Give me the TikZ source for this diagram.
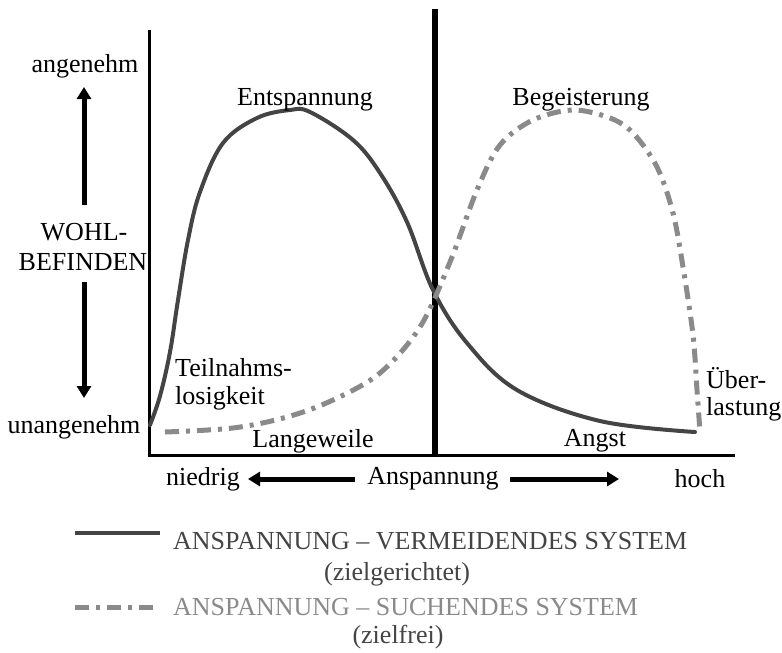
\documentclass[tikz,border=0pt]{standalone}
\usepackage{fontspec}
\setmainfont{Liberation Serif}
\usetikzlibrary{arrows.meta}
\definecolor{solidc}{HTML}{444444}
\definecolor{dashc}{HTML}{8A8A8A}
\begin{document}
\begin{tikzpicture}[x=1pt,y=-1pt,
  lbl/.style={font=\fontsize{26}{29}\selectfont, inner sep=0pt},
  axisline/.style={line width=3pt, black},
  bigarrow/.style={line width=5pt, -{Triangle[width=14pt,length=12pt]}},
  solidcurve/.style={line width=4pt, solidc, line cap=round},
  dashcurve/.style={line width=5pt, dashc, dash pattern=on 14pt off 7pt on 4pt off 7pt}]
\useasboundingbox (0,0) rectangle (782,653);
% axes
\coordinate (ytop) at (149,30);
\coordinate (origin) at (149,455);
\coordinate (xend) at (735,455);
\coordinate (mtop) at (435,9);
\coordinate (mbot) at (435,455);
\draw[axisline] (ytop) -- (origin) -- (xend);
\draw[line width=6pt] (mtop) -- (mbot);
% curves
\draw[solidcurve] plot[smooth, tension=0.6] coordinates {(150,425) (160,396) (170,352) (178,300) (188,240) (200,192) (223,143) (257,118) (290,110) (310,112) (353,140) (380,173) (407,222) (433,290) (467,343) (517,390) (600,421) (695,432)};
\draw[dashcurve] plot[smooth, tension=0.55] coordinates {(165,432) (233,428) (287,417) (333,400) (380,373) (420,327) (450,262) (477,190) (500,145) (533,120) (573,110) (610,118) (633,133) (657,167) (673,213) (683,267) (693,335) (697,390) (700,432)};
% left axis labels
\node[lbl] (ang) at (85,66) {angenehm};
\node[lbl] (wohl) at (84,232) {WOHL-};
\node[lbl] (bef) at (83,262) {BEFINDEN};
\node[lbl] (unang) at (74,427) {unangenehm};
\coordinate (upS) at (84,205);
\coordinate (upE) at (84,87);
\coordinate (dnS) at (84,282);
\coordinate (dnE) at (84,398);
\draw[bigarrow] (upS) -- (upE);
\draw[bigarrow] (dnS) -- (dnE);
% plot labels
\node[lbl] (entsp) at (305,100) {Entspannung};
\node[lbl] (begei) at (581,100) {Begeisterung};
\node[lbl, anchor=west] (teil) at (175,368) {Teilnahms-};
\node[lbl, anchor=west] (losig) at (175,398) {losigkeit};
\node[lbl] (lange) at (313,441) {Langeweile};
\node[lbl] (angst) at (595,441) {Angst};
\node[lbl, anchor=west] (ueber) at (706,378) {Über-};
\node[lbl, anchor=west] (last) at (706,409) {lastung};
% bottom axis labels
\node[lbl] (nied) at (203,479) {niedrig};
\node[lbl] (ansp) at (433,479) {Anspannung};
\node[lbl] (hoch) at (700,479) {hoch};
\coordinate (lS) at (355,479);
\coordinate (lE) at (248,479);
\coordinate (rS) at (510,479);
\coordinate (rE) at (619,479);
\draw[bigarrow] (lS) -- (lE);
\draw[bigarrow] (rS) -- (rE);
% legend
\coordinate (l1a) at (75,533);
\coordinate (l1b) at (160,533);
\coordinate (l2a) at (75,607);
\coordinate (l2b) at (160,607);
\draw[solidcurve, line cap=butt] (l1a) -- (l1b);
\draw[dashcurve] (l2a) -- (l2b);
\node[lbl, anchor=west, text=solidc] (leg1) at (173,541) {ANSPANNUNG – VERMEIDENDES SYSTEM};
\node[lbl, text=solidc] (leg1b) at (397,574) {(zielgerichtet)};
\node[lbl, anchor=west, text=dashc] (leg2) at (173,607) {ANSPANNUNG – SUCHENDES SYSTEM};
\node[lbl, text=solidc] (leg2b) at (398,637) {(zielfrei)};
\end{tikzpicture}
\end{document}
